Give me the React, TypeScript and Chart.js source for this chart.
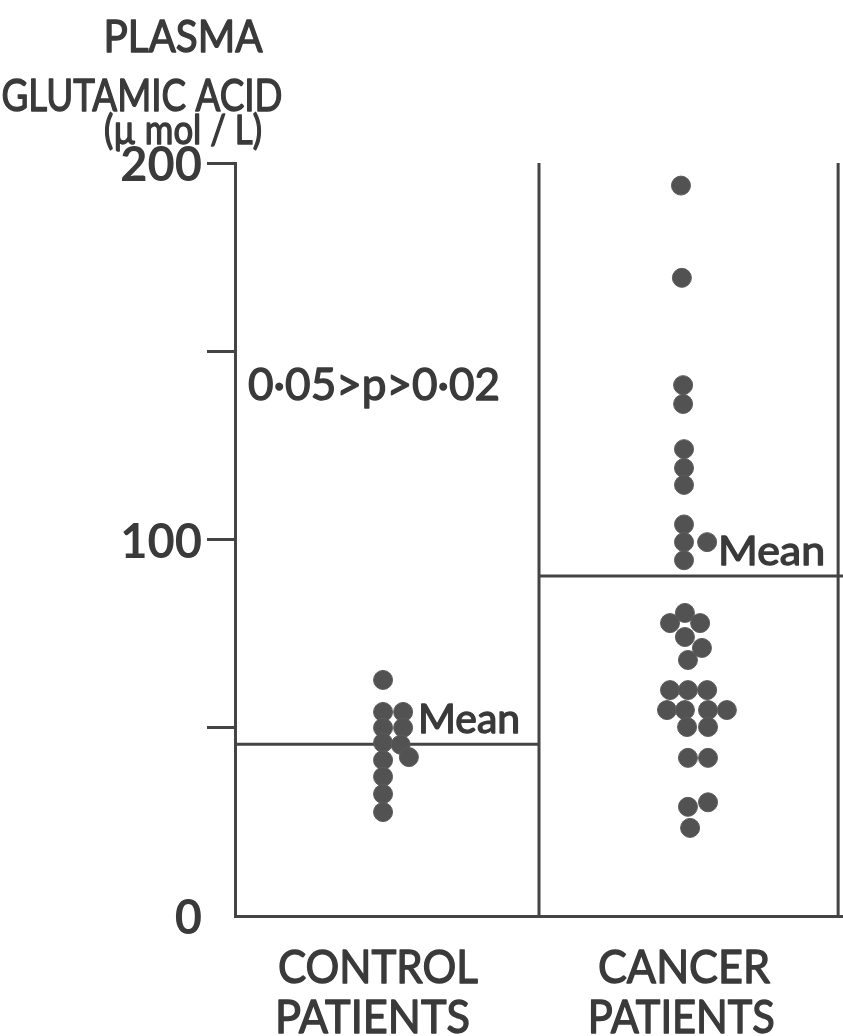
import React, { useEffect, useRef } from "react";
import { Chart, registerables } from "chart.js";

Chart.register(...registerables);

// ---- data ----
const categories = [["CONTROL", "PATIENTS"], ["CANCER", "PATIENTS"]];
const yTitle = ["PLASMA", "GLUTAMIC ACID", "(µ mol / L)"];
const yTickValues = [0, 50, 100, 150, 200];
const yTickLabels = ["0", "", "100", "", "200"];
const pText = "0·05>p>0·02";
const meanLabel = "Mean";

// x is the horizontal position of each dot inside its group (0..1 control, 1..2 cancer)
const controlX = [0.487, 0.487, 0.553, 0.487, 0.553, 0.487, 0.545, 0.572, 0.487, 0.487, 0.487, 0.487];
const controlY = [62.7, 54.2, 54.2, 50.0, 50.0, 46.0, 45.5, 42.2, 41.4, 37.0, 32.4, 27.6];

const cancerX = [
  1.467, 1.470, 1.474, 1.474, 1.477, 1.477, 1.477, 1.477, 1.477, 1.553, 1.477,
  1.480, 1.431, 1.530, 1.480, 1.536, 1.490,
  1.431, 1.490, 1.553,
  1.421, 1.480, 1.556, 1.618,
  1.487, 1.556,
  1.490, 1.556,
  1.490, 1.556, 1.497,
];
const cancerY = [
  194, 169.5, 141, 136, 124, 119, 114.5, 104, 99.3, 99.3, 94.5,
  80.5, 77.8, 77.8, 74.1, 71.2, 68,
  60, 60, 60,
  54.7, 54.7, 54.7, 54.7,
  50.2, 50.2,
  42, 42,
  29, 30.2, 23.4,
];

const controlMean = 45.6;
const cancerMean = 90.3;
const groupBounds = [0, 1, 1.984, 2];

const INK = "#3a3a3a";
const LINE = "#444444";
const DOT = "#525252";
const FONT = '"Lato", sans-serif';

function fitText(ctx: CanvasRenderingContext2D, text: string, cx: number, baseline: number, width: number, size: number, align: "left" | "center" = "center") {
  ctx.save();
  ctx.font = `${size}px ${FONT}`;
  ctx.fillStyle = INK;
  ctx.strokeStyle = INK;
  ctx.lineWidth = 1.4;
  ctx.lineJoin = "round";
  ctx.textAlign = "left";
  ctx.textBaseline = "alphabetic";
  const w = ctx.measureText(text).width;
  const sx = width / w;
  const left = align === "center" ? cx - width / 2 : cx;
  ctx.translate(left, baseline);
  ctx.scale(sx, 1);
  ctx.fillText(text, 0, 0);
  ctx.strokeText(text, 0, 0);
  ctx.restore();
}

const textPlugin = {
  id: "texts",
  afterDraw(chart: any) {
    const ctx = chart.ctx as CanvasRenderingContext2D;
    const xs = chart.scales.x;
    const ys = chart.scales.y;
    const bottom = chart.chartArea.bottom;
    // axis title
    fitText(ctx, yTitle[0], 183, 52, 159, 45);
    fitText(ctx, yTitle[1], 142, 111, 281, 44);
    fitText(ctx, yTitle[2], 183, 144, 158, 40);
    // p value
    fitText(ctx, pText, xs.getPixelForValue(0.043), ys.getPixelForValue(137), 252, 45, "left");
    // mean labels
    fitText(ctx, meanLabel, xs.getPixelForValue(0.602), ys.getPixelForValue(controlMean) - 11, 102, 41, "left");
    fitText(ctx, meanLabel, xs.getPixelForValue(1.589), ys.getPixelForValue(cancerMean) - 11, 107, 41, "left");
    // category labels
    fitText(ctx, categories[0][0], xs.getPixelForValue(0.47), bottom + 67, 200, 47);
    fitText(ctx, categories[0][1], xs.getPixelForValue(0.452), bottom + 117, 195, 47);
    fitText(ctx, categories[1][0], xs.getPixelForValue(1.477), bottom + 67, 172, 47);
    fitText(ctx, categories[1][1], xs.getPixelForValue(1.468), bottom + 117, 187, 47);
  },
};

export default function App() {
  const ref = useRef<HTMLCanvasElement | null>(null);
  useEffect(() => {
    if (!ref.current) return;
    const lineDs = (pts: { x: number; y: number }[]) => ({
      type: "line" as const,
      data: pts,
      borderColor: LINE,
      borderWidth: 3,
      pointRadius: 0,
      showLine: true,
      fill: false,
      order: 2,
    });
    const chart = new Chart(ref.current, {
      type: "scatter",
      data: {
        datasets: [
          {
            data: controlX.map((x, i) => ({ x, y: controlY[i] })),
            backgroundColor: DOT,
            borderColor: "#5c5c5c",
            borderWidth: 1,
            pointRadius: 9.5,
            order: 1,
          },
          {
            data: cancerX.map((x, i) => ({ x, y: cancerY[i] })),
            backgroundColor: DOT,
            borderColor: "#5c5c5c",
            borderWidth: 1,
            pointRadius: 9.5,
            order: 1,
          },
          lineDs([{ x: groupBounds[0], y: controlMean }, { x: groupBounds[1], y: controlMean }]) as any,
          lineDs([{ x: groupBounds[1], y: cancerMean }, { x: groupBounds[3], y: cancerMean }]) as any,
          lineDs([{ x: groupBounds[1], y: 0 }, { x: groupBounds[1], y: 200 }]) as any,
          lineDs([{ x: groupBounds[2], y: 0 }, { x: groupBounds[2], y: 200 }]) as any,
        ],
      },
      options: {
        animation: false,
        responsive: false,
        layout: { autoPadding: false, padding: { top: 163, right: 0, bottom: 120, left: 0 } },
        plugins: { legend: { display: false }, tooltip: { enabled: false }, title: { display: false } },
        scales: {
          x: {
            type: "linear",
            min: 0,
            max: 2,
            grid: { display: false },
            ticks: { display: false },
            border: { display: true, color: LINE, width: 3 },
            afterFit: (s: any) => {
              s.height = 0;
              s.paddingLeft = 0;
              s.paddingRight = 0;
            },
          },
          y: {
            type: "linear",
            min: 0,
            max: 200,
            afterBuildTicks: (s: any) => {
              s.ticks = yTickValues.map((v) => ({ value: v }));
            },
            ticks: {
              callback: (v: any) => yTickLabels[yTickValues.indexOf(Number(v))] ?? "",
              font: { family: "Lato", size: 47, weight: "bold" },
              color: INK,
              padding: 5,
              labelOffset: 3,
            },
            grid: {
              drawOnChartArea: false,
              drawTicks: true,
              tickLength: 28,
              lineWidth: 3,
              color: (c: any) => (c.tick && c.tick.value === 0 ? "rgba(0,0,0,0)" : LINE),
            },
            border: { display: true, color: LINE, width: 3 },
            afterFit: (s: any) => {
              s.width = 235;
            },
          },
        },
      },
      plugins: [textPlugin],
    });
    return () => chart.destroy();
  }, []);
  return (
    <div style={{ position: "absolute", left: 0, top: 0, width: 843, height: 1036, background: "#fff", overflow: "hidden" }}>
      <canvas ref={ref} width={843} height={1036} style={{ display: "block" }} />
    </div>
  );
}
